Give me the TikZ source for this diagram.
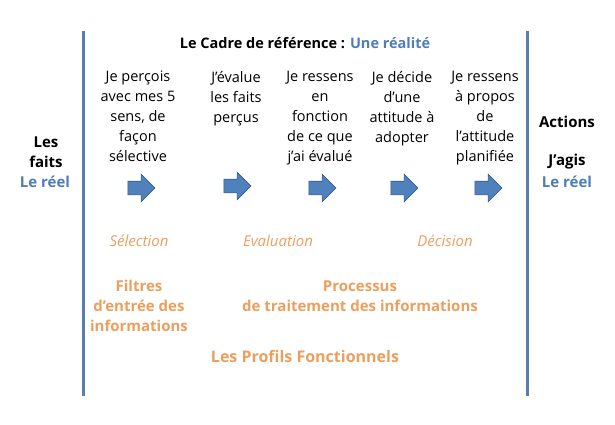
\documentclass[tikz,border=0pt]{standalone}
\usepackage{fontspec}
\setmainfont{Open Sans}
\usetikzlibrary{shapes.arrows}
\definecolor{lineblue}{HTML}{5B7FAD}
\definecolor{txtblue}{HTML}{4F7DB5}
\definecolor{arrfill}{HTML}{4F81BD}
\definecolor{arrdraw}{HTML}{385D8A}
\definecolor{orng}{HTML}{EB9F5E}
\begin{document}
\begin{tikzpicture}[x=1pt,y=-1pt,
  stage/.style={align=center,font=\fontsize{14.5}{20}\selectfont,anchor=north,inner sep=0pt},
  bluearr/.style={single arrow,fill=arrfill,draw=arrdraw,line width=0.6pt,minimum height=27pt,single arrow head extend=7pt,inner sep=0pt,single arrow tip angle=90},
  vline/.style={lineblue,line width=3pt},
  btxt/.style={font=\bfseries\fontsize{15}{20}\selectfont,align=center,inner sep=0pt},
  otxt/.style={font=\bfseries\fontsize{15}{20}\selectfont,align=center,inner sep=0pt,text=orng},
  itxt/.style={font=\itshape\fontsize{15}{18}\selectfont,text=orng,inner sep=0pt}]
\useasboundingbox (0,0) rectangle (615,425);
\coordinate (l1) at (83,31); \coordinate (l2) at (83,396);
\coordinate (r1) at (527,31); \coordinate (r2) at (527,396);
\draw[vline] (l1) -- (l2);
\draw[vline] (r1) -- (r2);
\node[font=\bfseries\fontsize{14.5}{18}\selectfont,inner sep=0pt] (title) at (305,43) {Le Cadre de référence : \textcolor{txtblue}{Une réalité}};
\node[stage] (s1) at (138,71) {Je perçois\\avec mes 5\\sens, de\\façon\\sélective};
\node[stage] (s2) at (236,71) {J’évalue\\les faits\\perçus};
\node[stage] (s3) at (320,71) {Je ressens\\en\\fonction\\de ce que\\j’ai évalué};
\node[stage] (s4) at (402,71) {Je décide\\d’une\\attitude à\\adopter};
\node[stage] (s5) at (485,71) {Je ressens\\à propos\\de\\l’attitude\\planifiée};
\node[bluearr] (a1) at (138,188) {\rule{0pt}{13pt}};
\node[bluearr] (a2) at (234,186) {\rule{0pt}{13pt}};
\node[bluearr] (a3) at (319,188) {\rule{0pt}{13pt}};
\node[bluearr] (a4) at (401,188) {\rule{0pt}{13pt}};
\node[bluearr] (a5) at (485,188) {\rule{0pt}{13pt}};
\node[btxt] (les) at (46,142) {Les};
\node[btxt] (faits) at (46,162) {faits};
\node[btxt,text=txtblue] (reel1) at (45,182) {Le réel};
\node[btxt] (actions) at (567,122) {Actions};
\node[btxt] (agis) at (567,162) {J’agis};
\node[btxt,text=txtblue] (reel2) at (567,182) {Le réel};
\node[itxt] (sel) at (139,241) {Sélection};
\node[itxt] (eval) at (278,241) {Evaluation};
\node[itxt] (dec) at (445,241) {Décision};
\node[otxt] (filtres) at (139,306) {Filtres\\d’entrée des\\informations};
\node[otxt] (proc) at (360,296) {Processus\\de traitement des informations};
\node[font=\bfseries\fontsize{16}{20}\selectfont,inner sep=0pt,text=orng] (profils) at (305,356) {Les Profils Fonctionnels};
\end{tikzpicture}
\end{document}
